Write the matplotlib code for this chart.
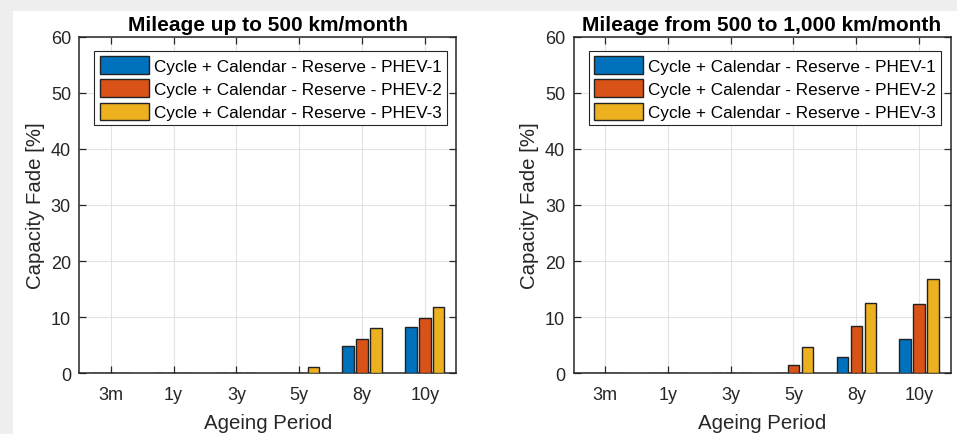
import matplotlib
matplotlib.use("Agg")
import matplotlib.pyplot as plt
import numpy as np
from matplotlib.patches import Rectangle

plt.rcParams['font.family'] = ['Liberation Sans', 'DejaVu Sans']

categories = ["3m", "1y", "3y", "5y", "8y", "10y"]
series_names = ["Cycle + Calendar - Reserve - PHEV-1",
                "Cycle + Calendar - Reserve - PHEV-2",
                "Cycle + Calendar - Reserve - PHEV-3"]
# Left: Mileage up to 500 km/month
left_phev1 = [0, 0, 0, 0, 4.8, 8.3]
left_phev2 = [0, 0, 0, 0, 6.1, 9.9]
left_phev3 = [0, 0, 0, 1.1, 8.0, 11.8]
# Right: Mileage from 500 to 1,000 km/month
right_phev1 = [0, 0, 0, 0, 2.9, 6.1]
right_phev2 = [0, 0, 0, 1.5, 8.4, 12.4]
right_phev3 = [0, 0, 0, 4.7, 12.5, 16.8]
titles = ["Mileage up to 500 km/month", "Mileage from 500 to 1,000 km/month"]
yticks = [0, 10, 20, 30, 40, 50, 60]

colors = ["#0072BD", "#D95319", "#EDB120"]

fig = plt.figure(figsize=(9.57, 4.35), dpi=100)
fig.patch.set_facecolor("white")
# light frame at top and left (screenshot border)
fig.patches.append(Rectangle((0, 1 - 12/435), 1, 12/435, transform=fig.transFigure,
                             facecolor="#eeeeee", edgecolor="none", zorder=-10))
fig.patches.append(Rectangle((0, 0), 13/957, 1, transform=fig.transFigure,
                             facecolor="#eeeeee", edgecolor="none", zorder=-10))

positions = [[79.3/957, 1 - 374.3/435, 377/957, 336.6/435],
             [573.5/957, 1 - 374.3/435, 377/957, 336.6/435]]
data = [[left_phev1, left_phev2, left_phev3], [right_phev1, right_phev2, right_phev3]]

x = np.arange(len(categories))
offset = 0.222
width = 0.18
for pos, series, title in zip(positions, data, titles):
    ax = fig.add_axes(pos)
    for i, (vals, c, name) in enumerate(zip(series, colors, series_names)):
        ax.bar(x + (i - 1) * offset, vals, width=width, color=c, edgecolor="#222222",
               linewidth=1.0, label=name, zorder=3)
    ax.set_xlim(-0.5, 5.5)
    ax.set_ylim(0, 60)
    ax.set_xticks(x)
    ax.set_xticklabels(categories)
    ax.set_yticks(yticks)
    ax.grid(True, color="#e3e3e3", linewidth=0.8, zorder=0)
    ax.set_axisbelow(True)
    ax.tick_params(direction="in", top=True, right=True, length=5, width=0.9,
                   labelsize=13, colors="#262626")
    ax.tick_params(axis="x", pad=9)
    ax.tick_params(axis="y", pad=6)
    for sp in ax.spines.values():
        sp.set_color("#262626")
        sp.set_linewidth(1.1)
    ax.set_xlabel("Ageing Period", fontsize=14.7, color="#262626", labelpad=7)
    ax.set_ylabel("Capacity Fade [%]", fontsize=14.7, color="#262626", labelpad=4)
    ax.set_title(title, fontsize=15, fontweight="bold", color="black", pad=5)
    leg = ax.legend(loc="upper left", bbox_to_anchor=(0.04, 0.957), borderaxespad=0,
                    fontsize=12.3, handlelength=2.9, handleheight=1.2, handletextpad=0.3,
                    labelspacing=0.33, borderpad=0.3, fancybox=False, framealpha=1,
                    edgecolor="#262626")
    leg.get_frame().set_linewidth(0.8)

fig.savefig("out.png", dpi=100, facecolor=fig.get_facecolor())
